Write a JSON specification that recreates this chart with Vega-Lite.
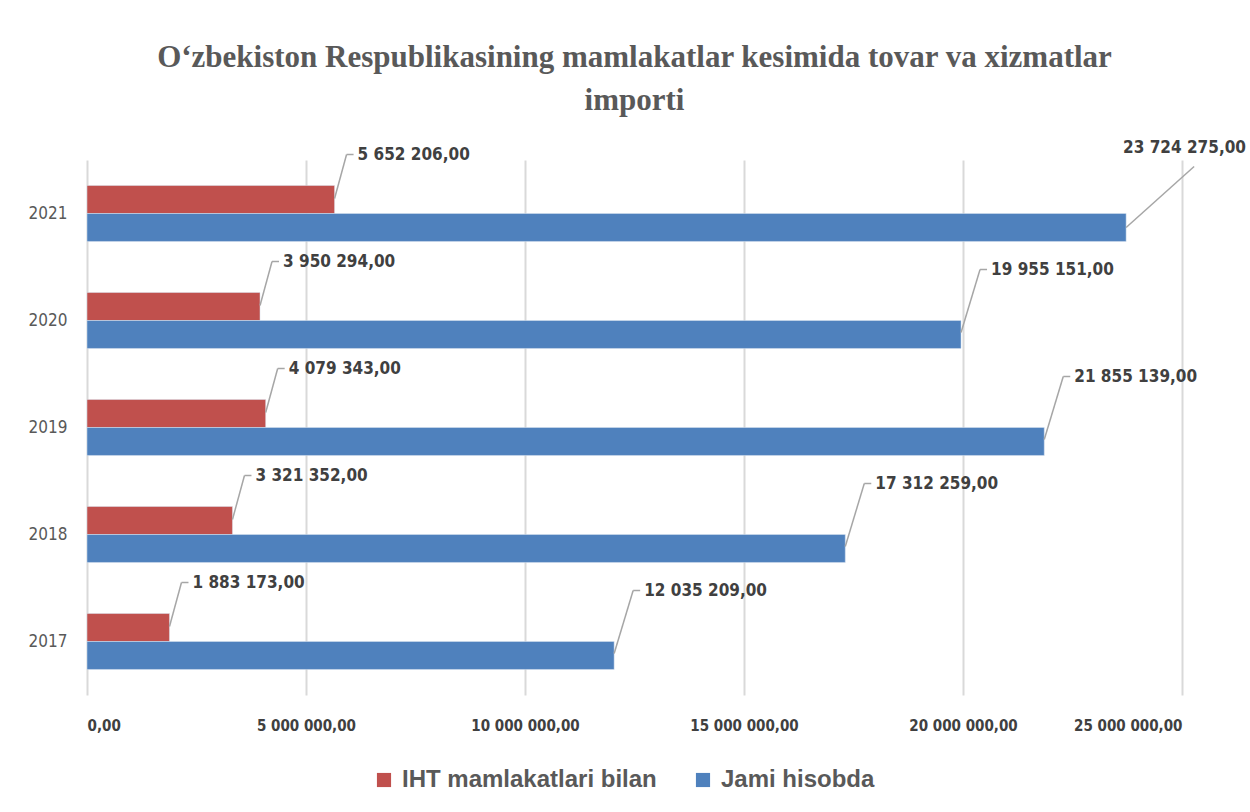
{
  "$schema": "https://vega.github.io/schema/vega-lite/v6.json",
  "autosize": "none",
  "width": 1095,
  "height": 535,
  "padding": {"left": 87, "top": 160, "right": 68, "bottom": 117},
  "background": "white",
  "title": {
    "text": ["O‘zbekiston Respublikasining mamlakatlar kesimida tovar va xizmatlar", "importi"],
    "font": "Liberation Serif",
    "fontSize": 31,
    "fontWeight": "bold",
    "color": "#595959",
    "lineHeight": 43,
    "anchor": "middle",
    "offset": 22
  },
  "data": {
    "values": [
      {"year": "2021", "series": "IHT mamlakatlari bilan", "value": 5652206},
      {"year": "2021", "series": "Jami hisobda", "value": 23724275},
      {"year": "2020", "series": "IHT mamlakatlari bilan", "value": 3950294},
      {"year": "2020", "series": "Jami hisobda", "value": 19955151},
      {"year": "2019", "series": "IHT mamlakatlari bilan", "value": 4079343},
      {"year": "2019", "series": "Jami hisobda", "value": 21855139},
      {"year": "2018", "series": "IHT mamlakatlari bilan", "value": 3321352},
      {"year": "2018", "series": "Jami hisobda", "value": 17312259},
      {"year": "2017", "series": "IHT mamlakatlari bilan", "value": 1883173},
      {"year": "2017", "series": "Jami hisobda", "value": 12035209}
    ]
  },
  "encoding": {
    "y": {
      "field": "year", "type": "nominal", "sort": "descending",
      "scale": {"paddingInner": 0.477, "paddingOuter": 0.2385},
      "axis": {"title": null, "domain": false, "ticks": false, "grid": false, "labelPadding": 20,
               "labelFont": "DejaVu Sans Condensed", "labelFontSize": 17, "labelColor": "#595959"}
    },
    "x": {
      "field": "value", "type": "quantitative",
      "scale": {"domain": [0, 25000000], "nice": false},
      "axis": {"title": null, "domain": false, "ticks": false, "values": [0, 5000000, 10000000, 15000000, 20000000, 25000000],
               "format": ",.2f", "labelPadding": 23, "labelFont": "DejaVu Sans Condensed", "labelFontSize": 15,
               "labelFontWeight": "bold", "labelColor": "#404040", "gridColor": "#d9d9d9", "gridWidth": 2}
    }
  },
  "layer": [
    {
      "mark": {"type": "bar", "stroke": "#dbe5f1", "strokeWidth": 0.5},
      "encoding": {
        "yOffset": {"field": "series", "type": "nominal", "sort": ["IHT mamlakatlari bilan", "Jami hisobda"], "scale": {"paddingInner": 0, "paddingOuter": 0}},
        "color": {
          "field": "series", "type": "nominal",
          "scale": {"domain": ["IHT mamlakatlari bilan", "Jami hisobda"], "range": ["#C0504D", "#4F81BD"]},
          "legend": {"title": null, "orient": "none", "direction": "horizontal", "legendX": 285, "legendY": 608,
                     "symbolType": "square", "symbolSize": 200, "symbolStrokeWidth": 0, "columnPadding": 34, "labelLimit": 500,
                     "labelFont": "Liberation Sans", "labelFontSize": 24, "labelFontWeight": "bold", "labelColor": "#595959", "labelOffset": 6}
        }
      }
    },
    {
      "transform": [{"filter": "datum.series === 'IHT mamlakatlari bilan'"}],
      "layer": [
        {"mark": {"type": "rule", "color": "#a6a6a6", "strokeWidth": 1.5, "yOffset": -15, "y2Offset": -59, "x2Offset": 12},
         "encoding": {"x2": {"field": "value"}, "y2": {"field": "year"}}},
        {"mark": {"type": "rule", "color": "#a6a6a6", "strokeWidth": 1.5, "yOffset": -59, "y2Offset": -59, "xOffset": 12, "x2Offset": 19},
         "encoding": {"x2": {"field": "value"}, "y2": {"field": "year"}}},
        {"mark": {"type": "text", "align": "left", "baseline": "middle", "dx": 23, "yOffset": -59,
                  "font": "DejaVu Sans Condensed", "fontSize": 17, "fontWeight": "bold", "color": "#404040"},
         "encoding": {"text": {"field": "value", "type": "quantitative", "format": ",.2f"}}}
      ]
    },
    {
      "transform": [{"filter": "datum.series === 'Jami hisobda' && datum.year !== '2021'"}],
      "layer": [
        {"mark": {"type": "rule", "color": "#a6a6a6", "strokeWidth": 1.5, "yOffset": 12, "y2Offset": -51, "x2Offset": 19},
         "encoding": {"x2": {"field": "value"}, "y2": {"field": "year"}}},
        {"mark": {"type": "rule", "color": "#a6a6a6", "strokeWidth": 1.5, "yOffset": -51, "y2Offset": -51, "xOffset": 19, "x2Offset": 26},
         "encoding": {"x2": {"field": "value"}, "y2": {"field": "year"}}},
        {"mark": {"type": "text", "align": "left", "baseline": "middle", "dx": 30, "yOffset": -51,
                  "font": "DejaVu Sans Condensed", "fontSize": 17, "fontWeight": "bold", "color": "#404040"},
         "encoding": {"text": {"field": "value", "type": "quantitative", "format": ",.2f"}}}
      ]
    },
    {
      "transform": [{"filter": "datum.series === 'Jami hisobda' && datum.year === '2021'"}],
      "layer": [
        {"mark": {"type": "rule", "color": "#a6a6a6", "strokeWidth": 1.5, "yOffset": 14, "y2Offset": -47, "x2Offset": 68},
         "encoding": {"x2": {"field": "value"}, "y2": {"field": "year"}}},
        {"mark": {"type": "text", "align": "left", "baseline": "middle", "dx": -3, "yOffset": -66,
                  "font": "DejaVu Sans Condensed", "fontSize": 17, "fontWeight": "bold", "color": "#404040"},
         "encoding": {"text": {"field": "value", "type": "quantitative", "format": ",.2f"}}}
      ]
    }
  ],
  "config": {
    "view": {"stroke": null},
    "locale": {"number": {"decimal": ",", "thousands": " ", "grouping": [3], "currency": ["", ""]}}
  }
}
